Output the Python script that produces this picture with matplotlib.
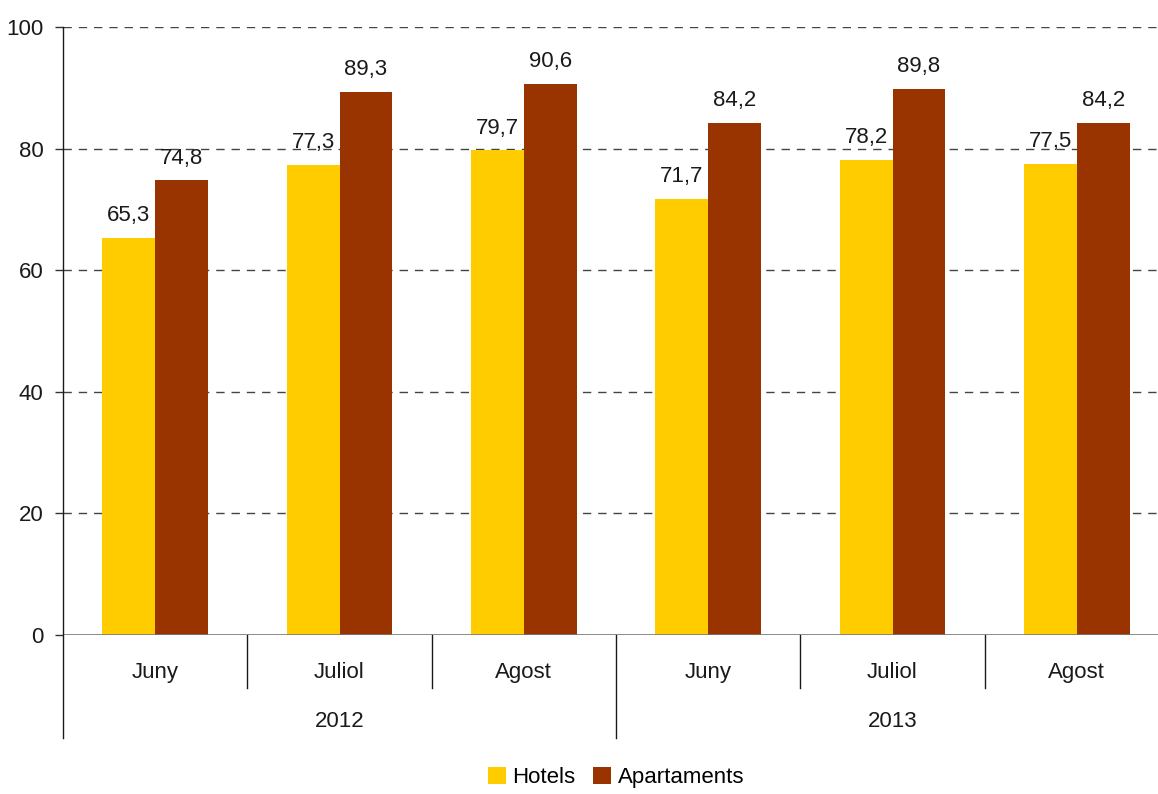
import numpy as np
import matplotlib
matplotlib.use("Agg")
import matplotlib.pyplot as plt
import matplotlib.transforms as mtransforms

# data
months = ["Juny", "Juliol", "Agost", "Juny", "Juliol", "Agost"]
years = ["2012", "2013"]
hotels = [65.3, 77.3, 79.7, 71.7, 78.2, 77.5]
apartaments = [74.8, 89.3, 90.6, 84.2, 89.8, 84.2]
series_names = ["Hotels", "Apartaments"]

plt.rcParams['font.family'] = ['Liberation Sans', 'DejaVu Sans']

yellow = '#FFCC00'
brown = '#993300'
fs = 16

fig = plt.figure(figsize=(11.58, 7.94), dpi=100)
# the plot area runs a bit past the right edge of the figure
ax = fig.add_axes([63 / 1158, 1 - 635 / 794, (1169 - 63) / 1158, (635 - 27) / 794])

x = np.arange(len(months))
w = 0.287
b1 = ax.bar(x - w / 2, hotels, w, color=yellow, label=series_names[0], zorder=3)
b2 = ax.bar(x + w / 2, apartaments, w, color=brown, label=series_names[1], zorder=3)

# value labels
for bars, vals in ((b1, hotels), (b2, apartaments)):
    for r, v in zip(bars, vals):
        ax.annotate(f"{v:.1f}".replace('.', ','), (r.get_x() + r.get_width() / 2, v),
                    xytext=(0, 12), textcoords='offset points', ha='center', va='baseline',
                    fontsize=fs, color='#1a1a1a', zorder=4)

ax.set_xlim(-0.5, len(months) - 0.5)
ax.set_ylim(0, 100)
ax.set_yticks(np.arange(0, 101, 20))
ax.tick_params(axis='y', length=6, width=1, color='#333333', pad=8, labelsize=fs, labelcolor='#1a1a1a')
ax.set_xticks([])

# dashed gridlines
for yv in range(20, 101, 20):
    ax.axhline(yv, color='#444444', linestyle=(0, (6, 5)), linewidth=1, zorder=1)
ax.axhline(0, color='#777777', linewidth=1.2, zorder=4)

for s in ['top', 'right', 'bottom', 'left']:
    ax.spines[s].set_visible(False)

trans = mtransforms.blended_transform_factory(ax.transData, ax.transAxes)

# left axis line, extended down through the category rows
ax.plot([-0.5, -0.5], [1, -0.169], transform=trans, color='#1a1a1a', linewidth=1,
        clip_on=False, zorder=5)

# two-level category axis
for i in range(1, len(months)):
    bottom = -0.169 if i == 3 else -0.087
    ax.plot([i - 0.5, i - 0.5], [0, bottom], transform=trans, color='#1a1a1a',
            linewidth=1, clip_on=False)
for i, m in enumerate(months):
    ax.text(i, -0.061, m, transform=trans, ha='center', va='center', fontsize=fs, color='#1a1a1a')
for j, yr in enumerate(years):
    ax.text(3 * j + 1, -0.143, yr, transform=trans, ha='center', va='center', fontsize=fs, color='#1a1a1a')

fig.legend(handles=[b1, b2], labels=series_names, loc='lower center', bbox_to_anchor=(0.532, -0.018),
           ncol=2, frameon=False, fontsize=fs, handlelength=0.8, handleheight=0.8,
           handletextpad=0.3, columnspacing=0.8)

fig.savefig("out.png", dpi=100)
